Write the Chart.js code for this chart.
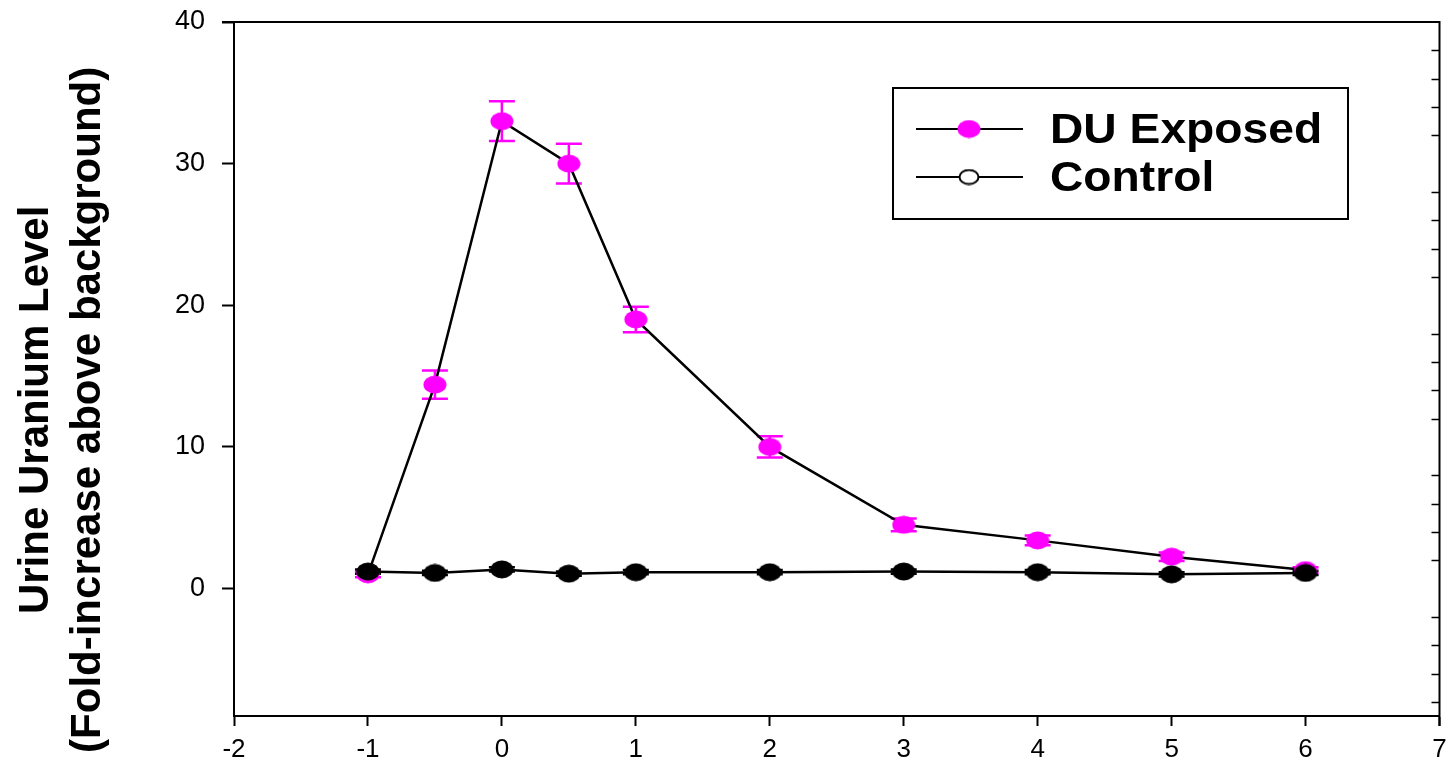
<!DOCTYPE html>
<html>
<head>
<meta charset="utf-8">
<script src="https://cdn.jsdelivr.net/npm/chart.js@4/dist/chart.umd.min.js"></script>
<style>
  html, body { margin: 0; padding: 0; background: #fff; }
  #wrap { width: 1452px; height: 767px; }
</style>
</head>
<body>
<div id="wrap"><canvas id="c" width="1452" height="767"></canvas></div>
<script>
// ---- data ----
const xValues = [-1, -0.5, 0, 0.5, 1, 2, 3, 4, 5, 6];
const duValues = [1.0, 14.4, 33.0, 30.0, 19.0, 10.0, 4.5, 3.4, 2.25, 1.3];
const duErrors = [0.2, 1.0, 1.4, 1.4, 0.9, 0.75, 0.45, 0.35, 0.3, 0.2];
const controlValues = [1.2, 1.1, 1.35, 1.05, 1.15, 1.15, 1.2, 1.15, 1.0, 1.1];
const controlErrors = [0.15, 0.15, 0.15, 0.15, 0.15, 0.15, 0.15, 0.15, 0.15, 0.15];
const xTicks = [-2, -1, 0, 1, 2, 3, 4, 5, 6, 7];
const yTicks = [0, 10, 20, 30, 40];
const yMinorTicks = [-8, -6, -4, -2, 2, 4, 6, 8, 12, 14, 16, 18, 22, 24, 26, 28, 32, 34, 36, 38];
const seriesLabels = ['DU Exposed', 'Control'];
const yTitle = ['Urine Uranium Level       ', '(Fold-increase above background)       '];

const MAGENTA = '#ff00ff';
const FONT = "'Liberation Sans', Arial, Helvetica, sans-serif";

function ellipseMarker(w, h, fill, stroke, lw) {
  const c = document.createElement('canvas');
  c.width = w; c.height = h;
  const g = c.getContext('2d');
  g.beginPath();
  g.ellipse(w / 2, h / 2, w / 2 - (lw || 0) / 2 - 0.5, h / 2 - (lw || 0) / 2 - 0.5, 0, 0, Math.PI * 2);
  if (fill) { g.fillStyle = fill; g.fill(); }
  if (stroke) { g.strokeStyle = stroke; g.lineWidth = lw; g.stroke(); }
  return c;
}
const duMarker = ellipseMarker(24, 19, MAGENTA);
const ctlMarker = ellipseMarker(24, 19, '#000');
const ctlLegendMarker = ellipseMarker(22, 17, '#fff', '#000', 2);

const toPoints = (vals) => xValues.map((x, i) => ({ x: x, y: vals[i] }));

const errorBars = {
  id: 'errorBars',
  beforeDatasetsDraw(chart) {
    const ctx = chart.ctx;
    const xs = chart.scales.x, ys = chart.scales.y;
    const sets = [
      { vals: duValues, errs: duErrors, color: MAGENTA },
      { vals: controlValues, errs: controlErrors, color: '#000' }
    ];
    ctx.save();
    ctx.lineWidth = 2.5;
    sets.forEach(s => {
      ctx.strokeStyle = s.color;
      xValues.forEach((x, i) => {
        const px = xs.getPixelForValue(x);
        const top = ys.getPixelForValue(s.vals[i] + s.errs[i]);
        const bot = ys.getPixelForValue(s.vals[i] - s.errs[i]);
        ctx.beginPath();
        ctx.moveTo(px, top); ctx.lineTo(px, bot);
        ctx.moveTo(px - 13, top); ctx.lineTo(px + 13, top);
        ctx.moveTo(px - 13, bot); ctx.lineTo(px + 13, bot);
        ctx.stroke();
      });
    });
    ctx.restore();
  }
};

const frameAndLegend = {
  id: 'frameAndLegend',
  afterDraw(chart) {
    const ctx = chart.ctx;
    const a = chart.chartArea;
    const ys = chart.scales.y;
    ctx.save();
    ctx.strokeStyle = '#000';
    ctx.lineWidth = 2;
    ctx.beginPath();
    ctx.moveTo(a.left - 12, a.top); ctx.lineTo(a.right, a.top);
    ctx.lineTo(a.right, a.bottom + 10);
    ctx.stroke();
    // right minor ticks (inward)
    ctx.lineWidth = 1.5;
    ctx.beginPath();
    yMinorTicks.forEach(v => {
      const py = Math.round(ys.getPixelForValue(v)) + 0.5;
      ctx.moveTo(a.right - 8, py); ctx.lineTo(a.right, py);
    });
    ctx.stroke();

    // legend box
    const bx = 893, by = 88, bw = 455, bh = 131;
    ctx.lineWidth = 2;
    ctx.strokeStyle = '#000';
    ctx.fillStyle = '#fff';
    ctx.fillRect(bx, by, bw, bh);
    ctx.strokeRect(bx, by, bw, bh);
    const rows = [
      { y: 129, marker: duMarker, label: seriesLabels[0] },
      { y: 177, marker: ctlLegendMarker, label: seriesLabels[1] }
    ];
    ctx.font = "bold 42px " + FONT;
    ctx.textBaseline = 'middle';
    ctx.textAlign = 'left';
    rows.forEach(r => {
      ctx.beginPath();
      ctx.lineWidth = 2;
      ctx.moveTo(916, r.y); ctx.lineTo(1023, r.y);
      ctx.stroke();
      ctx.drawImage(r.marker, 969 - r.marker.width / 2, r.y - r.marker.height / 2);
      ctx.fillStyle = '#000';
      ctx.save();
      ctx.translate(1050, r.y + 2);
      ctx.scale(1.1, 1);
      ctx.fillText(r.label, 0, 0);
      ctx.restore();
    });
    ctx.restore();
  }
};

new Chart(document.getElementById('c'), {
  type: 'line',
  data: {
    datasets: [
      {
        label: seriesLabels[0],
        data: toPoints(duValues),
        borderColor: '#000',
        borderWidth: 2.5,
        pointStyle: duMarker,
        pointRadius: 10,
        backgroundColor: MAGENTA,
        tension: 0,
        order: 2
      },
      {
        label: seriesLabels[1],
        data: toPoints(controlValues),
        borderColor: '#000',
        borderWidth: 2.5,
        pointStyle: ctlMarker,
        pointRadius: 10,
        backgroundColor: '#000',
        tension: 0,
        order: 1
      }
    ]
  },
  options: {
    responsive: false,
    animation: false,
    devicePixelRatio: 1,
    layout: { padding: { top: 22, right: 10, left: 0, bottom: 0 } },
    plugins: {
      legend: { display: false },
      tooltip: { enabled: false }
    },
    scales: {
      x: {
        type: 'linear',
        min: -2,
        max: 7,
        afterBuildTicks: (s) => { s.ticks = xTicks.map(v => ({ value: v })); },
        afterFit: (s) => { s.height = 51; s.paddingLeft = 0; s.paddingRight = 0; },
        grid: { drawOnChartArea: false, drawTicks: true, tickLength: 10, tickColor: '#000', tickWidth: 2 },
        border: { display: true, color: '#000', width: 2 },
        ticks: { color: '#000', font: { family: FONT, size: 26 }, padding: 8, maxRotation: 0, autoSkip: false }
      },
      y: {
        type: 'linear',
        min: -9,
        max: 40,
        afterBuildTicks: (s) => { s.ticks = yTicks.map(v => ({ value: v })); },
        afterFit: (s) => { s.width = 234; s.paddingTop = 0; s.paddingBottom = 0; },
        grid: { drawOnChartArea: false, drawTicks: true, tickLength: 12, tickColor: '#000', tickWidth: 2 },
        border: { display: true, color: '#000', width: 2 },
        ticks: { color: '#000', font: { family: FONT, size: 27 }, padding: 17 },
        title: {
          display: true,
          text: yTitle,
          color: '#000',
          font: { family: FONT, size: 42, weight: 'bold', lineHeight: 1.24 },
          padding: { top: 10, bottom: 0 }
        }
      }
    }
  },
  plugins: [errorBars, frameAndLegend]
});
</script>
</body>
</html>
